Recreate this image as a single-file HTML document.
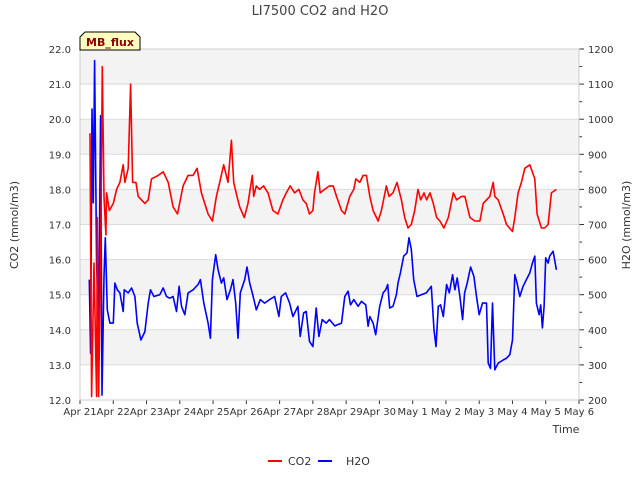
<!DOCTYPE html>
<html><head><meta charset="utf-8"><style>
body{margin:0;background:#fff;font-family:"Liberation Sans","DejaVu Sans",sans-serif}
svg text{font-family:"DejaVu Sans","Liberation Sans",sans-serif}
</style></head><body>
<svg id="chart" width="640" height="480" xmlns="http://www.w3.org/2000/svg">
<g id="bands"></g>
<g id="grid"></g>
<g id="series"></g>
<g id="axes"></g>
<text x="320" y="15" text-anchor="middle" font-size="13" fill="#444">LI7500 CO2 and H2O</text>
<text transform="translate(18,225) rotate(-90)" text-anchor="middle" font-size="11" fill="#333">CO2 (mmol/m3)</text>
<text transform="translate(630,225) rotate(-90)" text-anchor="middle" font-size="11" fill="#333">H2O (mmol/m3)</text>
<text x="566" y="433" text-anchor="middle" font-size="11" fill="#333">Time</text>
<g>
<path d="M80,50 L80,37 L85,32 L135,32 L140,37 L140,50 Z" fill="#ffffc0" stroke="#000" stroke-width="1"/>
<text x="110" y="46" text-anchor="middle" font-size="11" font-weight="bold" fill="#8b0000">MB_flux</text>
</g>
<g>
<g><line x1="268" y1="461" x2="282" y2="461" stroke="#f00" stroke-width="2"/><text x="288" y="465" font-size="11" fill="#333">CO2</text></g>
<g><line x1="318" y1="461" x2="332" y2="461" stroke="#00f" stroke-width="2"/><text x="346" y="465" font-size="11" fill="#333">H2O</text></g>
</g>
</svg>
<script>
const xTickLabels=["Apr 21","Apr 22","Apr 23","Apr 24","Apr 25","Apr 26","Apr 27","Apr 28","Apr 29","Apr 30","May 1","May 2","May 3","May 4","May 5","May 6"];
const leftTicks=[12,13,14,15,16,17,18,19,20,21,22];
const rightTicks=[200,300,400,500,600,700,800,900,1000,1100,1200];
const co2Days=[0.3,0.35,0.42,0.5,0.52,0.56,0.62,0.67,0.72,0.78,0.8,0.88,1.0,1.1,1.2,1.3,1.35,1.45,1.52,1.58,1.68,1.75,1.95,2.05,2.15,2.35,2.5,2.65,2.8,2.93,3.1,3.25,3.4,3.52,3.65,3.85,3.98,4.1,4.2,4.32,4.45,4.55,4.62,4.72,4.8,4.94,5.05,5.18,5.22,5.3,5.4,5.52,5.65,5.8,5.95,6.1,6.2,6.32,6.45,6.58,6.7,6.8,6.9,7.0,7.05,7.15,7.22,7.35,7.5,7.61,7.71,7.86,7.96,8.11,8.23,8.29,8.41,8.51,8.61,8.71,8.81,8.96,9.06,9.21,9.29,9.41,9.53,9.66,9.76,9.86,9.96,10.06,10.16,10.24,10.34,10.42,10.52,10.62,10.72,10.82,10.94,11.07,11.22,11.32,11.47,11.57,11.72,11.87,12.02,12.12,12.22,12.32,12.42,12.47,12.57,12.72,12.82,13.0,13.07,13.17,13.27,13.37,13.52,13.67,13.74,13.87,13.97,14.07,14.17,14.32];
const co2Values=[19.6,12.1,15.9,12.1,17.2,12.1,15.9,21.5,17.8,16.7,17.9,17.4,17.6,18.0,18.2,18.7,18.2,18.6,21.0,18.2,18.2,17.8,17.6,17.7,18.3,18.4,18.5,18.2,17.5,17.3,18.1,18.4,18.4,18.6,17.9,17.3,17.1,17.8,18.2,18.7,18.2,19.4,18.2,17.8,17.5,17.2,17.6,18.4,17.8,18.1,18.0,18.1,17.9,17.4,17.3,17.7,17.9,18.1,17.9,18.0,17.7,17.6,17.3,17.4,17.9,18.5,17.9,18.0,18.1,18.1,17.8,17.4,17.3,17.8,18.0,18.3,18.2,18.4,18.4,17.8,17.4,17.1,17.4,18.1,17.8,17.9,18.2,17.7,17.2,16.9,17.0,17.4,18.0,17.7,17.9,17.7,17.9,17.6,17.2,17.1,16.9,17.2,17.9,17.7,17.8,17.8,17.2,17.1,17.1,17.6,17.7,17.8,18.2,17.8,17.7,17.3,17.0,16.8,17.2,17.9,18.2,18.6,18.7,18.3,17.3,16.9,16.9,17.0,17.9,18.0];
const h2oDays=[0.28,0.32,0.36,0.4,0.44,0.5,0.56,0.62,0.66,0.72,0.76,0.82,0.9,1.0,1.05,1.12,1.2,1.3,1.33,1.45,1.55,1.65,1.72,1.83,1.95,2.05,2.12,2.22,2.4,2.5,2.6,2.7,2.8,2.9,2.98,3.05,3.15,3.25,3.4,3.55,3.62,3.72,3.85,3.92,3.98,4.08,4.15,4.25,4.32,4.42,4.52,4.6,4.68,4.75,4.82,4.95,5.02,5.1,5.18,5.3,5.42,5.55,5.7,5.85,5.98,6.05,6.18,6.3,6.4,6.55,6.62,6.72,6.8,6.9,7.0,7.1,7.18,7.28,7.4,7.5,7.66,7.86,7.96,8.06,8.13,8.23,8.36,8.46,8.59,8.66,8.71,8.81,8.89,9.01,9.11,9.19,9.25,9.31,9.41,9.51,9.56,9.63,9.73,9.83,9.89,9.96,10.03,10.13,10.26,10.41,10.56,10.64,10.7,10.77,10.84,10.92,11.02,11.1,11.2,11.27,11.34,11.42,11.5,11.56,11.64,11.74,11.84,11.92,12.0,12.1,12.22,12.27,12.34,12.4,12.47,12.57,12.72,12.82,12.92,13.0,13.07,13.14,13.22,13.32,13.42,13.52,13.6,13.67,13.72,13.8,13.85,13.9,13.95,14.0,14.07,14.12,14.22,14.32];
const h2oValues=[543,333,1029,762,1167,590,400,1010,214,552,662,457,419,419,533,514,505,452,514,505,519,495,419,371,395,476,514,495,500,519,495,490,495,452,524,467,443,505,514,529,543,476,419,376,543,614,571,533,548,486,514,543,476,376,505,543,579,533,505,457,486,476,486,495,438,495,505,476,438,467,381,448,452,367,352,462,381,429,419,429,411,419,495,510,471,486,467,481,471,410,438,419,386,467,505,514,529,462,467,500,533,562,610,619,662,629,543,495,500,505,524,400,352,467,471,438,529,505,557,514,548,495,429,505,533,579,552,495,443,476,476,305,290,476,286,305,314,319,329,371,557,533,495,524,543,562,590,610,476,443,471,405,467,605,590,610,624,571];

const NS="http://www.w3.org/2000/svg";
const X0=80,X1=579,Y0=400,Y1=49;
const xs=d=>X0+d*(X1-X0)/15;
const yL=v=>Y0-(v-12)*(Y0-Y1)/10;
const yR=v=>Y0-(v-200)*(Y0-Y1)/1000;
function mk(tag,attrs,parent){const e=document.createElementNS(NS,tag);for(const k in attrs)e.setAttribute(k,attrs[k]);parent.appendChild(e);return e;}
const bands=document.getElementById('bands'),grid=document.getElementById('grid'),axes=document.getElementById('axes'),series=document.getElementById('series');
for(let i=0;i<leftTicks.length-1;i++){
  if(i%2===1){const r=mk('rect',{x:X0,y:yL(leftTicks[i+1]),width:X1-X0,height:yL(leftTicks[i])-yL(leftTicks[i+1]),fill:'#f3f3f3'},bands);
  
  }
}
leftTicks.forEach(v=>{
  const l=mk('line',{x1:X0,x2:X1,y1:yL(v),y2:yL(v),stroke:'#dcdcdc','stroke-width':1},grid);
  
  
  const t=mk('text',{x:71,y:yL(v)+4,'text-anchor':'end','font-size':10,fill:'#333'},axes);t.textContent=v.toFixed(1);
  
  
});
rightTicks.forEach((v,i)=>{
  const t=mk('text',{x:588,y:yR(v)+4,'font-size':10,fill:'#333'},axes);t.textContent=v;
  
  
  mk('line',{x1:X1,x2:X1+5,y1:yR(v),y2:yR(v),stroke:'#333'},axes);
  if(i<rightTicks.length-1)mk('line',{x1:X1,x2:X1+3,y1:yR(v+50),y2:yR(v+50),stroke:'#333'},axes);
});
xTickLabels.forEach((s,i)=>{
  mk('line',{x1:xs(i),x2:xs(i),y1:Y0,y2:Y0+4,stroke:'#333'},axes);
  const t=mk('text',{x:xs(i),y:415,'text-anchor':'middle','font-size':10,fill:'#333'},axes);t.textContent=s;
  
  
});
const frame=mk('rect',{x:X0,y:Y1,width:X1-X0,height:Y0-Y1,fill:'none',stroke:'#ccc'},axes);


const h=mk('polyline',{points:h2oDays.map((d,i)=>xs(d).toFixed(1)+','+yR(h2oValues[i]).toFixed(1)).join(' '),fill:'none',stroke:'#00f','stroke-width':1.6,'stroke-linejoin':'round'},series);


const c=mk('polyline',{points:co2Days.map((d,i)=>xs(d).toFixed(1)+','+yL(co2Values[i]).toFixed(1)).join(' '),fill:'none',stroke:'#f00','stroke-width':1.6,'stroke-linejoin':'round'},series);


</script>
</body></html>
